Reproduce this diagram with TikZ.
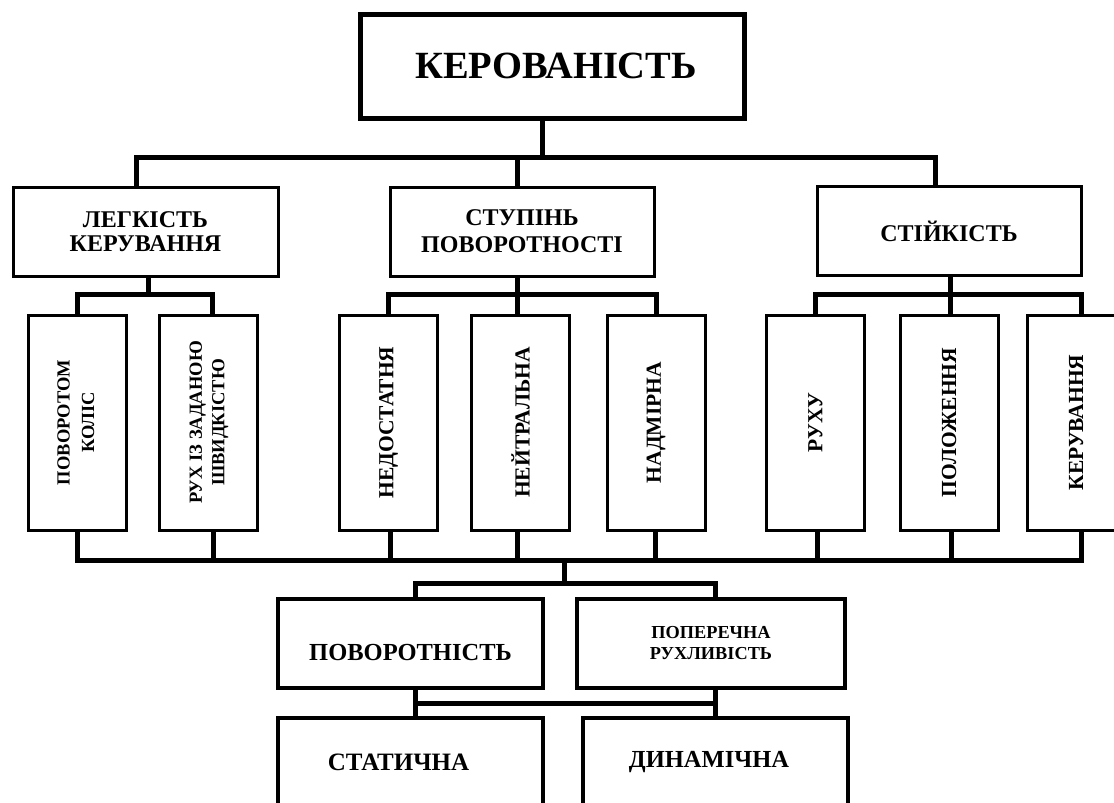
\documentclass[tikz,border=0pt]{standalone}
\usepackage{fontspec}
\setmainfont{Liberation Serif}
\begin{document}
\begin{tikzpicture}[x=1pt,y=-1pt,
  conn/.style={line width=5pt},
  hbox/.style={draw, line width=3pt, inner sep=0pt, align=center, minimum width=265pt, minimum height=89pt, font=\bfseries\fontsize{24}{26}\selectfont},
  vbox/.style={draw, line width=3pt, inner sep=0pt, minimum width=98pt, minimum height=215pt, font=\bfseries\fontsize{21.5}{24}\selectfont},
  lbox/.style={hbox, line width=4pt}]
\useasboundingbox (0,0) rectangle (1114,803);
\clip (0,0) rectangle (1114,803);

% main box
\node[draw, line width=5pt, minimum width=384pt, minimum height=104pt, inner sep=0pt, font=\bfseries\fontsize{38.5}{42}\selectfont] (top) at (552,66) {\hspace*{8pt}КЕРОВАНІСТЬ};

% second level
\node[hbox, font=\bfseries\fontsize{24}{24}\selectfont] (leg) at (145.5,231.5) {ЛЕГКІСТЬ\\КЕРУВАННЯ};
\node[hbox, minimum width=264pt, font=\bfseries\fontsize{24}{27}\selectfont] (stup) at (522,231.5) {СТУПІНЬ\\ПОВОРОТНОСТІ};
\node[hbox, minimum width=264pt] (stiy) at (949,231) {СТІЙКІСТЬ};

% third level (vertical text)
\node[vbox, font=\bfseries\fontsize{18.5}{24.5}\selectfont] (pk) at (77,422.5) {\rotatebox{90}{\begin{tabular}{@{}c@{}}ПОВОРОТОМ\\КОЛІС\end{tabular}}};
\node[vbox, font=\bfseries\fontsize{18.5}{22.5}\selectfont] (ruh) at (208.5,422.5) {\rotatebox{90}{\begin{tabular}{@{}c@{}}РУХ ІЗ ЗАДАНОЮ\\ШВИДКІСТЮ\end{tabular}}};
\node[vbox] (ned) at (388.5,422.5) {\rotatebox{90}{НЕДОСТАТНЯ}};
\node[vbox] (ney) at (520.5,422.5) {\rotatebox{90}{НЕЙТРАЛЬНА}};
\node[vbox] (nad) at (656,422.5) {\rotatebox{90}{НАДМІРНА}};
\node[vbox] (ruhu) at (815.5,422.5) {\rotatebox{90}{РУХУ}};
\node[vbox] (pol) at (949,422.5) {\rotatebox{90}{ПОЛОЖЕННЯ}};
\node[vbox] (ker) at (1076,422.5) {\rotatebox{90}{КЕРУВАННЯ}};

% lower boxes
\node[lbox, font=\bfseries\fontsize{24.5}{26}\selectfont, text height=33pt, text depth=0pt] (pov) at (410.5,643.5) {ПОВОРОТНІСТЬ};
\node[lbox, minimum width=268pt, font=\bfseries\fontsize{18.3}{21}\selectfont] (pop) at (711,643.5) {ПОПЕРЕЧНА\\РУХЛИВІСТЬ};
\node[lbox, font=\bfseries\fontsize{25}{26}\selectfont] (stat) at (410.5,762) {СТАТИЧНА\hspace*{24pt}};
\node[lbox, font=\bfseries\fontsize{24.5}{26}\selectfont] (din) at (715,762) {ДИНАМІЧНА\hspace*{12pt}};

% level 1 connectors
\coordinate (j0) at (542,157);
\coordinate (a1) at ([xshift=-9.5pt]leg.north);
\coordinate (a2) at ([xshift=-5pt]stup.north);
\coordinate (a3) at ([xshift=-14pt]stiy.north);
\draw[conn] (top.south -| j0) -- (j0);
\draw[conn] (a1) |- (j0) -| (a3);
\draw[conn] (a2) -- (a2 |- j0);

% leg children
\coordinate (j1) at (148,294);
\coordinate (b2) at ([xshift=3.5pt]ruh.north);
\draw[conn] (leg.south -| j1) -- (j1);
\draw[conn] (pk.north) |- (j1) -| (b2);

% stup children
\coordinate (j2) at (517,294);
\draw[conn] (stup.south -| j2) -- (j2);
\draw[conn] (ned.north) |- (j2) -| (nad.north);
\draw[conn] (ney.north -| j2) -- (j2);

% stiy children
\coordinate (j3) at (950,294);
\coordinate (c3) at ([xshift=5pt]ker.north);
\draw[conn] (stiy.south -| j3) -- (j3);
\draw[conn] (ruhu.north) |- (j3) -| (c3);
\draw[conn] (pol.north -| j3) -- (j3);

% bottom bus
\coordinate (j4) at (564,560);
\coordinate (e1) at ([xshift=4.5pt]ruh.south);
\coordinate (e2) at ([xshift=1.5pt]ned.south);
\coordinate (e3) at ([xshift=-3.5pt]ney.south);
\coordinate (e4) at ([xshift=-1pt]nad.south);
\coordinate (e5) at ([xshift=1.5pt]ruhu.south);
\coordinate (e6) at ([xshift=2pt]pol.south);
\coordinate (e7) at ([xshift=5pt]ker.south);
\draw[conn] (pk.south) |- (j4) -| (e7);
\draw[conn] (e1) -- (e1 |- j4);
\draw[conn] (e2) -- (e2 |- j4);
\draw[conn] (e3) -- (e3 |- j4);
\draw[conn] (e4) -- (e4 |- j4);
\draw[conn] (e5) -- (e5 |- j4);
\draw[conn] (e6) -- (e6 |- j4);

% to lower boxes
\coordinate (j5) at (564,583);
\coordinate (f1) at ([xshift=4.5pt]pov.north);
\coordinate (f2) at ([xshift=4pt]pop.north);
\draw[conn] (j4) -- (j5);
\draw[conn] (f1) |- (j5) -| (f2);

% bottom H
\coordinate (g1) at ([xshift=4.5pt]pov.south);
\coordinate (g2) at ([xshift=4pt]pop.south);
\draw[conn] (g1) -- (g1 |- stat.north);
\draw[conn] (g2) -- (g2 |- din.north);
\draw[conn] (g1 |- 0,703) -- (g2 |- 0,703);
\end{tikzpicture}
\end{document}
